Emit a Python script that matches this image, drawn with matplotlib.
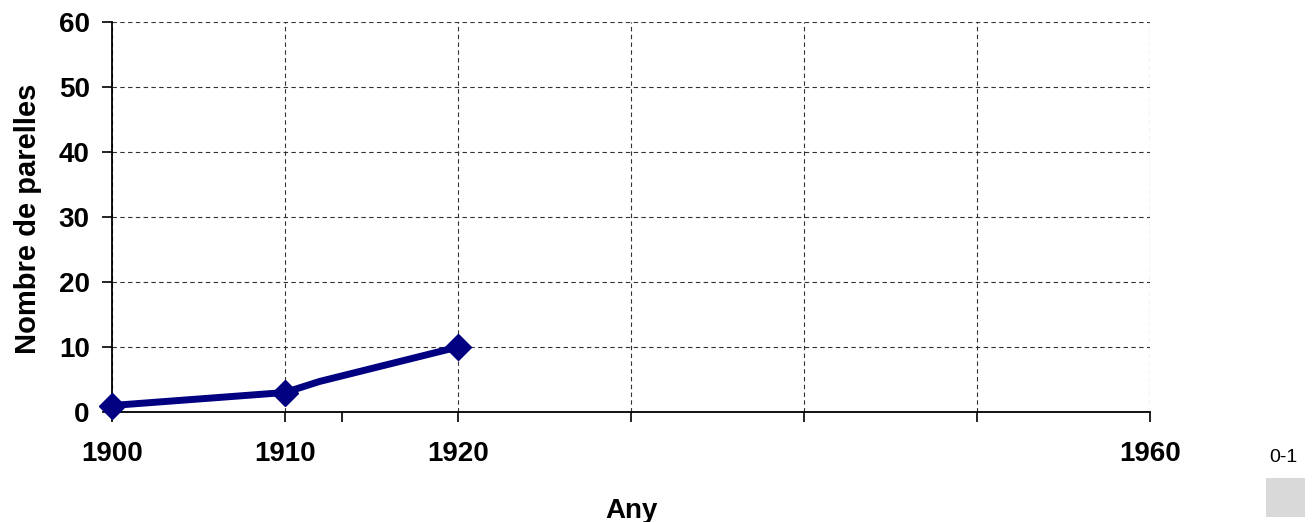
import matplotlib.pyplot as plt
from matplotlib.patches import Rectangle

# dades
anys = [1900, 1910, 1912, 1920]
parelles = [1, 3, 4.7, 10]
punts_marcats = [0, 1, 3]
ticks_x = [1900, 1910, 1920, 1930, 1940, 1950, 1960]
etiquetes_x = ['1900', '1910', '1920', '', '', '', '1960']
ticks_y = [0, 10, 20, 30, 40, 50, 60]
llegenda = '0-1'

plt.rcParams['font.family'] = ['Liberation Sans', 'DejaVu Sans']

fig = plt.figure(figsize=(13.14, 5.22), dpi=100)
ax = fig.add_axes([112 / 1314, 1 - 412 / 522, (1150 - 112) / 1314, (412 - 22) / 522])

ax.plot(anys, parelles, color='#000080', lw=5, marker='D', ms=13,
        markevery=punts_marcats, solid_joinstyle='round', zorder=5, clip_on=False)

ax.set_xlim(1900, 1960)
ax.set_ylim(0, 60)
ax.set_xticks(ticks_x)
ax.set_xticklabels(etiquetes_x, fontsize=20, fontweight='bold')
ax.set_xticks([1913.3], minor=True)
ax.set_yticks(ticks_y)
ax.set_yticklabels([str(v) for v in ticks_y], fontsize=20, fontweight='bold')
ax.tick_params(axis='x', which='both', length=7, width=1.2, pad=14, direction='out')
ax.tick_params(axis='y', length=7, width=1.2, pad=9, direction='out')

ax.grid(True, color='#333333', linestyle=(0, (4, 3)), linewidth=0.8)
ax.set_axisbelow(True)
for s in ['top', 'right']:
    ax.spines[s].set_visible(False)
for s in ['left', 'bottom']:
    ax.spines[s].set_linewidth(1.3)

# etiquetes dels eixos
fig.text(631 / 1314, 1 - 518 / 522, 'Any', fontsize=20, fontweight='bold',
         ha='center', va='baseline')
fig.text(28 / 1314, 1 - 219 / 522, 'Nombre de parelles', fontsize=21, fontweight='bold',
         ha='center', va='center', rotation=90)

# llegenda
fig.text(1283 / 1314, 1 - 458 / 522, llegenda, fontsize=14, ha='center', va='center')
fig.patches.append(Rectangle((1266 / 1314, 1 - 517 / 522), 39 / 1314, 39 / 522,
                             transform=fig.transFigure, facecolor='#d9d9d9', edgecolor='none'))

fig.savefig('out.png', dpi=100)
